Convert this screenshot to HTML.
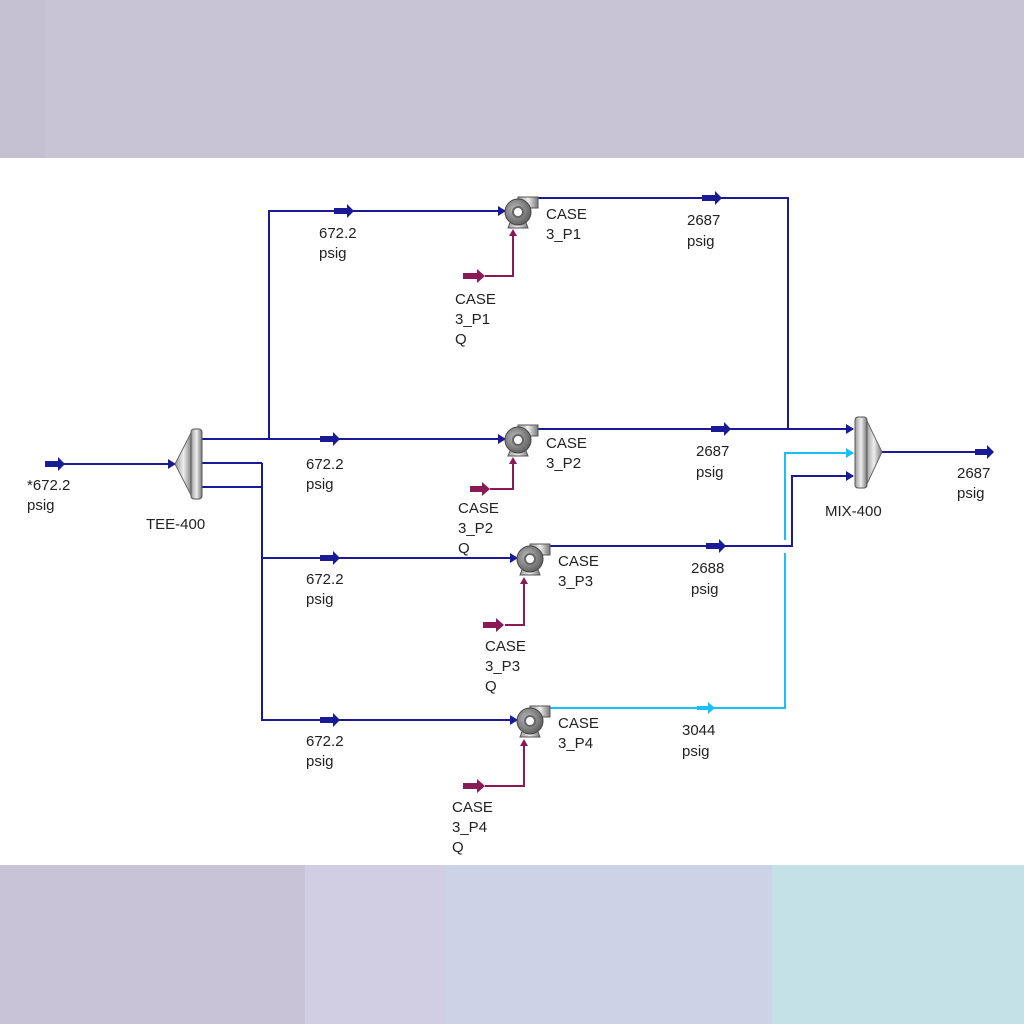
<!DOCTYPE html>
<html><head><meta charset="utf-8"><style>
body{margin:0;width:1024px;height:1024px;overflow:hidden;background:#fff}
svg{display:block}
text{font-family:"Liberation Sans",Arial,sans-serif;font-size:15px;fill:#222}
</style></head><body>
<svg width="1024" height="1024" viewBox="0 0 1024 1024">
<defs>
<linearGradient id="g" x1="0" x2="1"><stop offset="0" stop-color="#9a9a9a"/><stop offset="0.5" stop-color="#eeeeee"/><stop offset="1" stop-color="#777"/></linearGradient>
<radialGradient id="pg" cx="0.4" cy="0.4" r="0.7"><stop offset="0" stop-color="#bbb"/><stop offset="1" stop-color="#555"/></radialGradient>
<g id="pump">
<rect x="0" y="-15" width="20" height="11" fill="url(#g)" stroke="#555" stroke-width="1"/>
<path d="M-10 16 L10 16 L7 8 L-7 8 Z" fill="url(#g)" stroke="#555"/>
<circle cx="0" cy="0" r="13" fill="url(#pg)" stroke="#444"/>
<circle cx="0" cy="0" r="5" fill="#fff" stroke="#666" stroke-width="2"/>
</g>
</defs>
<rect x="0" y="0" width="1024" height="158" fill="#c8c4d6"/>
<rect x="0" y="0" width="45" height="158" fill="#c4c0d2"/>
<rect x="0" y="865" width="305" height="159" fill="#c8c3d6"/>
<rect x="305" y="865" width="140" height="159" fill="#d1cde3"/>
<rect x="445" y="865" width="327" height="159" fill="#cdd3e6"/>
<rect x="772" y="865" width="252" height="159" fill="#c4e1e8"/>

<g fill="none" stroke="#1a1a96" stroke-width="2">
<path d="M45 464 H175"/>
<path d="M202 439 H505"/>
<path d="M269 439 V211 H505"/>
<path d="M202 463 H262 M202 487 H262 M262 463 V720 H517 M262 558 H517"/>
<path d="M530 198 H788 V429"/>
<path d="M530 429 H853"/>
<path d="M542 546 H792 V476 H853"/>
<path d="M882 452 H990"/>
</g>
<g fill="none" stroke="#19c0f5" stroke-width="2">
<path d="M542 708 H785 V553 M785 540 V453 H853"/>
</g>
<g fill="none" stroke="#8a1a55" stroke-width="2">
<path d="M485 276 H513 V232"/>
<path d="M490 489 H513 V460"/>
<path d="M505 625 H524 V580"/>
<path d="M485 786 H524 V742"/>
</g>
<!-- arrowheads -->
<g fill="#1a1a96">
<path d="M168 459 L176 464 L168 469Z"/>
<path d="M498 206 L506 211 L498 216Z"/>
<path d="M498 434 L506 439 L498 444Z"/>
<path d="M510 553 L518 558 L510 563Z"/>
<path d="M510 715 L518 720 L510 725Z"/>
<path d="M846 424 L854 429 L846 434Z"/>
<path d="M846 471 L854 476 L846 481Z"/>
<rect x="45" y="461" width="14" height="6"/><path d="M58 457 L65 464 L58 471Z"/>
<rect x="334" y="208" width="14" height="6"/><path d="M347 204 L354 211 L347 218Z"/>
<rect x="320" y="436" width="14" height="6"/><path d="M333 432 L340 439 L333 446Z"/>
<rect x="320" y="555" width="14" height="6"/><path d="M333 551 L340 558 L333 565Z"/>
<rect x="320" y="717" width="14" height="6"/><path d="M333 713 L340 720 L333 727Z"/>
<rect x="702" y="195" width="14" height="6"/><path d="M715 191 L722 198 L715 205Z"/>
<rect x="711" y="426" width="14" height="6"/><path d="M724 422 L731 429 L724 436Z"/>
<rect x="706" y="543" width="14" height="6"/><path d="M719 539 L726 546 L719 553Z"/>
<rect x="975" y="449" width="13" height="6"/><path d="M987 445 L994 452 L987 459Z"/>
</g>
<g fill="#19c0f5">
<path d="M846 448 L854 453 L846 458Z"/>
<rect x="697" y="706" width="12" height="4"/><path d="M708 702 L715 708 L708 714Z"/>
</g>
<g fill="#8a1a55">
<rect x="463" y="273" width="15" height="6"/><path d="M477 269 L485 276 L477 283Z"/>
<rect x="470" y="486" width="13" height="6"/><path d="M482 482 L490 489 L482 496Z"/>
<rect x="483" y="622" width="14" height="6"/><path d="M496 618 L504 625 L496 632Z"/>
<rect x="463" y="783" width="15" height="6"/><path d="M477 779 L485 786 L477 793Z"/>
<path d="M509 236 L513 229 L517 236Z"/><path d="M509 464 L513 457 L517 464Z"/>
<path d="M520 584 L524 577 L528 584Z"/><path d="M520 746 L524 739 L528 746Z"/>
</g>
<!-- TEE -->
<path d="M192 431 L175 464 L192 497 Z" fill="url(#g)" stroke="#666"/>
<rect x="191" y="429" width="11" height="70" rx="3" fill="url(#g)" stroke="#555"/>
<!-- MIX -->
<path d="M866 419 L882 452 L866 486 Z" fill="url(#g)" stroke="#666"/>
<rect x="855" y="417" width="12" height="71" rx="3" fill="url(#g)" stroke="#555"/>
<use href="#pump" x="518" y="212"/>
<use href="#pump" x="518" y="440"/>
<use href="#pump" x="530" y="559"/>
<use href="#pump" x="530" y="721"/>

<text x="27" y="490">*672.2</text><text x="27" y="510">psig</text>
<text x="146" y="529">TEE-400</text>
<text x="825" y="516">MIX-400</text>
<text x="957" y="478">2687</text><text x="957" y="498">psig</text>
<text x="319" y="238">672.2</text><text x="319" y="258">psig</text>
<text x="306" y="469">672.2</text><text x="306" y="489">psig</text>
<text x="306" y="584">672.2</text><text x="306" y="604">psig</text>
<text x="306" y="746">672.2</text><text x="306" y="766">psig</text>
<text x="687" y="225">2687</text><text x="687" y="246">psig</text>
<text x="696" y="456">2687</text><text x="696" y="477">psig</text>
<text x="691" y="573">2688</text><text x="691" y="594">psig</text>
<text x="682" y="735">3044</text><text x="682" y="756">psig</text>
<text x="546" y="219">CASE</text><text x="546" y="239">3_P1</text>
<text x="546" y="448">CASE</text><text x="546" y="468">3_P2</text>
<text x="558" y="566">CASE</text><text x="558" y="586">3_P3</text>
<text x="558" y="728">CASE</text><text x="558" y="748">3_P4</text>
<text x="455" y="304">CASE</text><text x="455" y="324">3_P1</text><text x="455" y="344">Q</text>
<text x="458" y="513">CASE</text><text x="458" y="533">3_P2</text><text x="458" y="553">Q</text>
<text x="485" y="651">CASE</text><text x="485" y="671">3_P3</text><text x="485" y="691">Q</text>
<text x="452" y="812">CASE</text><text x="452" y="832">3_P4</text><text x="452" y="852">Q</text>
</svg>
</body></html>
